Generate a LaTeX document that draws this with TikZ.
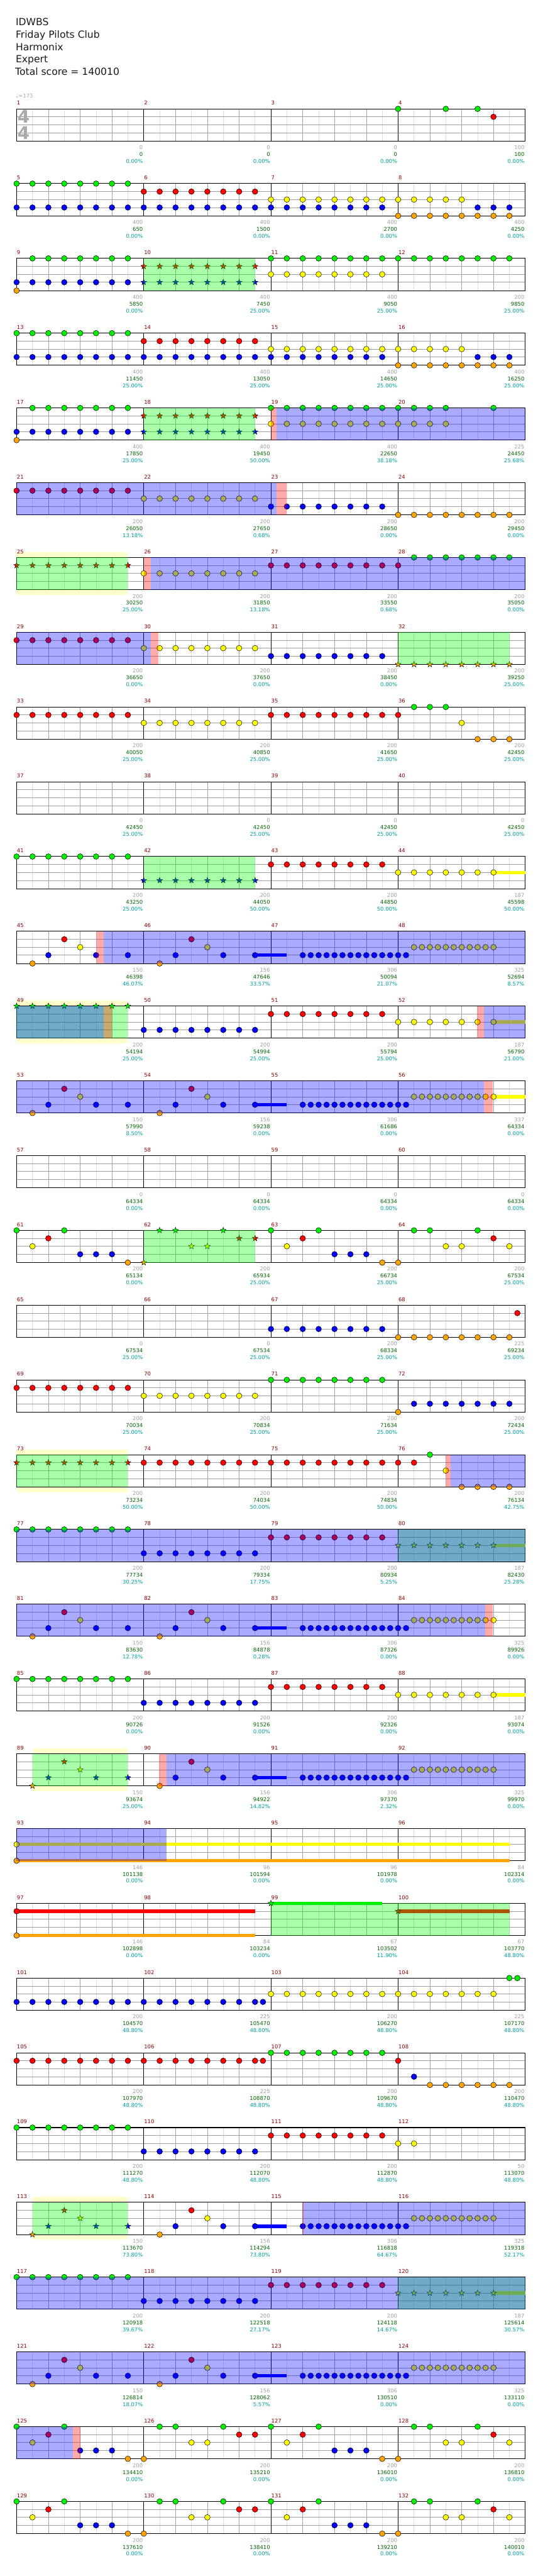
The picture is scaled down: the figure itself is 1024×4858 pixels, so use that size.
\documentclass[tikz,border=0pt]{standalone}
\usepackage{fontspec}
\setmainfont{DejaVu Sans}
\definecolor{ng}{RGB}{0,240,0}
\definecolor{nr}{RGB}{255,0,0}
\definecolor{ny}{RGB}{255,255,0}
\definecolor{nb}{RGB}{0,0,255}
\definecolor{no}{RGB}{255,165,0}
\definecolor{gridA}{RGB}{160,160,160}
\definecolor{gridB}{RGB}{221,221,221}
\definecolor{mnum}{RGB}{139,0,0}
\definecolor{sgray}{RGB}{160,160,160}
\definecolor{sgreen}{RGB}{0,100,0}
\definecolor{scyan}{RGB}{0,160,160}
\definecolor{ybandc}{RGB}{255,255,204}
\definecolor{ovg}{RGB}{0,255,0}
\definecolor{hdr}{RGB}{25,25,25}
\definecolor{lgray}{RGB}{170,170,170}
\newcommand{\laneg}{0}
\newcommand{\laner}{15}
\newcommand{\laney}{30}
\newcommand{\laneb}{45}
\newcommand{\laneo}{60.7}
\tikzset{
  px/.style={x={(1pt,0)},y={(0,-1pt)}},
  row/.style={shift={(31.3,{205.3+141*#1})}},
  notestyle/.style={draw=black,line width=0.6pt},
  sm/.style={font=\fontsize{10}{12}\selectfont, inner sep=0pt},
}
\newcommand{\Nt}[2]{\filldraw[notestyle,fill=n#2] ({30*#1},\csname lane#2\endcsname) circle[radius=5.3pt];}
\newcommand{\St}[2]{\filldraw[notestyle,line width=0.5pt,fill=n#2] ({30*#1},\csname lane#2\endcsname) +(270:5.8) -- +(306:2.4) -- +(342:5.8) -- +(18:2.4) -- +(54:5.8) -- +(90:2.4) -- +(126:5.8) -- +(162:2.4) -- +(198:5.8) -- +(234:2.4) -- cycle;}
\newcommand{\Nrun}[3]{\foreach \p in {#1,...,#2}{\Nt{\p}{#3}}}
\newcommand{\Srun}[3]{\foreach \p in {#1,...,#2}{\St{\p}{#3}}}
\newcommand{\Nhalf}[3]{\foreach \p in {#1,#1.5,...,#2}{\Nt{\p}{#3}}}
\newcommand{\Sus}[3]{\fill[n#3] ({30*#1},{\csname lane#3\endcsname-3.2}) rectangle ({30*#2},{\csname lane#3\endcsname+3.2});}
\newcommand{\OvG}[2]{\fill[ovg,fill opacity=0.333] (#1,0) rectangle (#2,60.7);}
\newcommand{\OvB}[2]{\fill[blue,fill opacity=0.333] (#1,0) rectangle (#2,60.7);}
\newcommand{\OvP}[2]{\fill[red,fill opacity=0.333] (#1,0) rectangle (#2,60.7);}
\newcommand{\Yband}[2]{\fill[ybandc] (#1,-10) rectangle (#2,0); \fill[ybandc] (#1,60.7) rectangle (#2,70.7);}
\newcommand{\PatA}{\Nt{1}{o}\Nt{2}{b}\Nt{3}{r}\Nt{4}{y}\Nt{5}{b}\Nt{7}{b}}
\newcommand{\PatAs}{\St{1}{o}\St{2}{b}\St{3}{r}\St{4}{y}\St{5}{b}\St{7}{b}}
\newcommand{\PatB}{\Sus{15}{17}{b}\Nt{9}{o}\Nt{10}{b}\Nt{11}{r}\Nt{12}{y}\Nt{13}{b}\Nt{15}{b}\Nhalf{18}{24.5}{b}\Nhalf{25}{30}{y}}
\newcommand{\PatCa}{\Nt{0}{g}\Nt{1}{y}\Nt{2}{r}\Nt{3}{g}\Nt{4}{b}\Nt{5}{b}\Nt{6}{b}\Nt{7}{o}}
\newcommand{\PatCb}{\Nt{8}{o}\Nt{9}{g}\Nt{10}{g}\Nt{11}{y}\Nt{12}{y}\Nt{13}{g}\Nt{14}{r}\Nt{15}{r}}
\newcommand{\PatCbs}{\St{8}{o}\St{9}{g}\St{10}{g}\St{11}{y}\St{12}{y}\St{13}{g}\St{14}{r}\St{15}{r}}
\newcommand{\PatCc}{\Nt{16}{g}\Nt{17}{y}\Nt{18}{r}\Nt{19}{g}\Nt{20}{b}\Nt{21}{b}\Nt{22}{b}\Nt{23}{o}\Nt{24}{o}\Nt{25}{g}\Nt{26}{g}\Nt{27}{y}\Nt{28}{y}\Nt{29}{g}\Nt{30}{r}\Nt{31}{y}}
\newcommand{\GridRow}{%
  \foreach \k in {1,3,...,31} \draw[gridB,line width=0.8pt] ({30*\k},0) -- ({30*\k},60.7);
  \foreach \k in {2,4,6,10,12,14,18,20,22,26,28,30} \draw[gridA,line width=0.8pt] ({30*\k},0) -- ({30*\k},60.7);
  \foreach \yv in {15,30,45} \draw[gridA,line width=0.8pt] (0,\yv) -- (960,\yv);
  \foreach \k in {240,480,720} \draw[black,line width=0.9pt] (\k,0) -- (\k,60.7);
  \draw[black,line width=1.2pt] (0,0) rectangle (960,60.7);
}
\newcommand{\Scores}[2]{%
  \begin{scope}[row=#1]
  \foreach \qa/\qb/\qc [count=\qi] in {#2}{%
    \node[sm,text=sgray,anchor=east] (a#1-\qi) at ({240*\qi-1.5},73) {\qa};
    \node[sm,text=sgreen,anchor=east] (b#1-\qi) at ({240*\qi-1.5},86) {\qb};
    \node[sm,text=scyan,anchor=east] (c#1-\qi) at ({240*\qi-1.5},99) {\qc\%};
  }
  \end{scope}}
\begin{document}
\begin{tikzpicture}[px]
\useasboundingbox (0,0) rectangle (1024,4858);
\fill[white] (0,0) rectangle (1024,4858);
% header
\node[anchor=base west,inner sep=0,text=hdr,font=\fontsize{18.5}{22}\selectfont] (title) at (29.5,48.3) {IDWBS};
\node[anchor=base west,inner sep=0,text=hdr,font=\fontsize{18.5}{22}\selectfont] (artist) at (29.5,71.7) {Friday Pilots Club};
\node[anchor=base west,inner sep=0,text=hdr,font=\fontsize{18.5}{22}\selectfont] (author) at (29.5,95) {Harmonix};
\node[anchor=base west,inner sep=0,text=hdr,font=\fontsize{18.5}{22}\selectfont] (diff) at (29.5,118.3) {Expert};
\node[anchor=base west,inner sep=0,text=hdr,font=\fontsize{18.5}{22}\selectfont] (total) at (28.5,141.5) {Total score = 140010};
\node[sm,text=lgray,anchor=west] (tempo) at (30,181) {♩=173};
% yellow bands (behind grid)
\begin{scope}[row=6]\Yband{0}{210}\end{scope}
\begin{scope}[row=12]\Yband{0}{210}\end{scope}
\begin{scope}[row=18]\Yband{0}{210}\end{scope}
\begin{scope}[row=22]\Yband{30}{210}\end{scope}
\begin{scope}[row=28]\Yband{30}{210}\end{scope}
% grids and measure numbers
\foreach \rr in {0,...,32}{
  \begin{scope}[row=\rr]
  \GridRow
  \foreach \cc in {0,...,3}{
    \pgfmathtruncatemacro{\mm}{4*\rr+\cc+1}
    \node[sm,text=mnum,anchor=west] (m\mm) at ({240*\cc+0.5},-11) {\mm};
  }
  \end{scope}
}
\node[text=lgray,font=\fontsize{33}{33}\bfseries\selectfont,inner sep=0] (tsa) at (44.5,220.3) {4};
\node[text=lgray,font=\fontsize{33}{33}\bfseries\selectfont,inner sep=0] (tsb) at (44.5,250.3) {4};
% rows
\begin{scope}[row=0]\Nt{24}{g}\Nt{27}{g}\Nt{29}{g}\Nt{30}{r}\end{scope}
\begin{scope}[row=1]\Nrun{0}{7}{g}\Nrun{0}{23}{b}\Nrun{8}{15}{r}\Nrun{16}{28}{y}\Nrun{29}{31}{b}\Nrun{24}{31}{o}\end{scope}
\begin{scope}[row=2]\Nrun{1}{7}{g}\Nrun{0}{7}{b}\Nt{0}{o}\Srun{8}{15}{r}\Srun{8}{15}{b}\Nrun{16}{31}{g}\Nrun{16}{23}{y}\OvG{240}{450}\end{scope}
\begin{scope}[row=3]\Nrun{0}{7}{g}\Nrun{0}{23}{b}\Nrun{8}{15}{r}\Nrun{16}{28}{y}\Nrun{29}{31}{b}\Nrun{24}{31}{o}\end{scope}
\begin{scope}[row=4]\Nrun{1}{7}{g}\Nrun{0}{7}{b}\Nt{0}{o}\Srun{8}{15}{r}\Srun{8}{15}{b}\Nrun{16}{27}{g}\Nt{30}{g}\Nrun{16}{27}{y}\OvG{240}{450}\OvP{480}{491}\OvB{491}{960}\end{scope}
\begin{scope}[row=5]\Nrun{0}{7}{r}\Nrun{8}{15}{y}\Nrun{16}{23}{b}\Nrun{24}{31}{o}\OvB{0}{491}\OvP{491}{509}\end{scope}
\begin{scope}[row=6]\Srun{0}{7}{r}\Nrun{8}{15}{y}\Nrun{16}{24}{r}\Nrun{25}{31}{g}\OvG{0}{210}\OvP{240}{253}\OvB{253}{960}\end{scope}
\begin{scope}[row=7]\Nrun{0}{7}{r}\Nrun{8}{15}{y}\Nrun{16}{23}{b}\Srun{24}{31}{o}\OvG{720}{930}\OvB{0}{253}\OvP{253}{268}\end{scope}
\begin{scope}[row=8]\Nrun{0}{7}{r}\Nrun{8}{15}{y}\Nrun{16}{24}{r}\Nrun{25}{27}{g}\Nt{28}{y}\Nrun{29}{31}{o}\end{scope}
\begin{scope}[row=10]\Nrun{0}{7}{g}\Srun{8}{15}{b}\Nrun{16}{23}{r}\Sus{30}{32}{y}\Nrun{24}{30}{y}\OvG{240}{450}\end{scope}
\begin{scope}[row=11]\PatA\PatB\OvP{150}{164}\OvB{164}{960}\end{scope}
\begin{scope}[row=12]\Srun{0}{7}{g}\Nrun{8}{15}{b}\Nrun{16}{23}{r}\Nrun{24}{29}{y}\Sus{30}{32}{y}\Nt{30}{y}\OvG{0}{210}\OvB{0}{164}\OvP{164}{180}\OvP{869}{882}\OvB{882}{960}\end{scope}
\begin{scope}[row=13]\Sus{30}{32}{y}\PatA\PatB\OvB{0}{882}\OvP{882}{899}\end{scope}
\begin{scope}[row=15]\PatCa\PatCbs\PatCc\OvG{240}{450}\end{scope}
\begin{scope}[row=16]\Nrun{16}{23}{b}\Nrun{24}{31}{o}\Nt{31.5}{r}\end{scope}
\begin{scope}[row=17]\Nrun{0}{7}{r}\Nrun{8}{15}{y}\Nrun{16}{23}{g}\Nt{24}{o}\Nrun{25}{31}{b}\end{scope}
\begin{scope}[row=18]\Srun{0}{7}{r}\Nrun{8}{25}{r}\Nt{26}{g}\Nt{27}{y}\Nrun{28}{31}{o}\OvG{0}{210}\OvP{809}{819}\OvB{819}{960}\end{scope}
\begin{scope}[row=19]\Nrun{0}{7}{g}\Nrun{8}{15}{b}\Nrun{16}{23}{r}\Sus{30}{32}{y}\Srun{24}{30}{y}\OvG{720}{960}\OvB{0}{960}\end{scope}
\begin{scope}[row=20]\PatA\PatB\OvB{0}{884}\OvP{884}{899}\end{scope}
\begin{scope}[row=21]\Nrun{0}{7}{g}\Nrun{8}{15}{b}\Nrun{16}{23}{r}\Sus{30}{32}{y}\Nrun{24}{30}{y}\end{scope}
\begin{scope}[row=22]\PatAs\PatB\OvG{30}{210}\OvP{269}{283}\OvB{283}{960}\end{scope}
\begin{scope}[row=23]\Sus{0}{31}{y}\Sus{0}{31}{o}\Nt{0}{y}\Nt{0}{o}\OvB{0}{283}\end{scope}
\begin{scope}[row=24]\Sus{0}{15}{r}\Sus{0}{15}{o}\Nt{0}{r}\Nt{0}{o}\Sus{16}{23}{g}\St{16}{g}\Sus{24}{31}{r}\St{24}{r}\OvG{480}{930}\end{scope}
\begin{scope}[row=25]\Nrun{0}{15}{b}\Nt{15.5}{b}\Nrun{16}{30}{y}\Nt{31}{g}\Nt{31.5}{g}\end{scope}
\begin{scope}[row=26]\Nrun{0}{15}{r}\Nt{15.5}{r}\Nrun{16}{23}{g}\Nt{24}{r}\Nt{25}{b}\Nrun{26}{31}{o}\end{scope}
\begin{scope}[row=27]\Nrun{0}{7}{g}\Nrun{8}{15}{b}\Nrun{16}{23}{r}\Nt{24}{y}\Nt{25}{y}\end{scope}
\begin{scope}[row=28]\PatAs\PatB\OvG{30}{210}\OvB{540}{960}\OvP{539}{541}\end{scope}
\begin{scope}[row=29]\Nrun{0}{7}{g}\Nrun{8}{15}{b}\Nrun{16}{23}{r}\Sus{30}{32}{y}\Srun{24}{30}{y}\OvG{720}{960}\OvB{0}{960}\end{scope}
\begin{scope}[row=30]\PatA\PatB\OvB{0}{960}\end{scope}
\begin{scope}[row=31]\PatCa\PatCb\PatCc\OvB{0}{106}\OvP{106}{120}\end{scope}
\begin{scope}[row=32]\PatCa\PatCb\PatCc\end{scope}
% scores
\Scores{0}{0/0/0.00, 0/0/0.00, 0/0/0.00, 100/100/0.00}
\Scores{1}{400/650/0.00, 400/1500/0.00, 400/2700/0.00, 400/4250/0.00}
\Scores{2}{400/5850/0.00, 400/7450/25.00, 400/9050/25.00, 200/9850/25.00}
\Scores{3}{400/11450/25.00, 400/13050/25.00, 400/14650/25.00, 400/16250/25.00}
\Scores{4}{400/17850/25.00, 400/19450/50.00, 400/22650/38.18, 225/24450/25.68}
\Scores{5}{200/26050/13.18, 200/27650/0.68, 200/28650/0.00, 200/29450/0.00}
\Scores{6}{200/30250/25.00, 200/31850/13.18, 200/33550/0.68, 200/35050/0.00}
\Scores{7}{200/36650/0.00, 200/37650/0.00, 200/38450/0.00, 200/39250/25.00}
\Scores{8}{200/40050/25.00, 200/40850/25.00, 200/41650/25.00, 200/42450/25.00}
\Scores{9}{0/42450/25.00, 0/42450/25.00, 0/42450/25.00, 0/42450/25.00}
\Scores{10}{200/43250/25.00, 200/44050/50.00, 200/44850/50.00, 187/45598/50.00}
\Scores{11}{150/46398/46.07, 156/47646/33.57, 306/50094/21.07, 325/52694/8.57}
\Scores{12}{200/54194/25.00, 200/54994/25.00, 200/55794/25.00, 187/56790/21.00}
\Scores{13}{150/57990/8.50, 156/59238/0.00, 306/61686/0.00, 337/64334/0.00}
\Scores{14}{0/64334/0.00, 0/64334/0.00, 0/64334/0.00, 0/64334/0.00}
\Scores{15}{200/65134/0.00, 200/65934/25.00, 200/66734/25.00, 200/67534/25.00}
\Scores{16}{0/67534/25.00, 0/67534/25.00, 200/68334/25.00, 225/69234/25.00}
\Scores{17}{200/70034/25.00, 200/70834/25.00, 200/71634/25.00, 200/72434/25.00}
\Scores{18}{200/73234/50.00, 200/74034/50.00, 200/74834/50.00, 200/76134/42.75}
\Scores{19}{200/77734/30.25, 200/79334/17.75, 200/80934/5.25, 187/82430/25.28}
\Scores{20}{150/83630/12.78, 156/84878/0.28, 306/87326/0.00, 325/89926/0.00}
\Scores{21}{200/90726/0.00, 200/91526/0.00, 200/92326/0.00, 187/93074/0.00}
\Scores{22}{150/93674/25.00, 156/94922/14.82, 306/97370/2.32, 325/99970/0.00}
\Scores{23}{146/101138/0.00, 96/101594/0.00, 96/101978/0.00, 84/102314/0.00}
\Scores{24}{146/102898/0.00, 84/103234/0.00, 67/103502/11.90, 67/103770/48.80}
\Scores{25}{200/104570/48.80, 225/105470/48.80, 200/106270/48.80, 225/107170/48.80}
\Scores{26}{200/107970/48.80, 225/108870/48.80, 200/109670/48.80, 200/110470/48.80}
\Scores{27}{200/111270/48.80, 200/112070/48.80, 200/112870/48.80, 50/113070/48.80}
\Scores{28}{150/113670/73.80, 156/114294/73.80, 306/116818/64.67, 325/119318/52.17}
\Scores{29}{200/120918/39.67, 200/122518/27.17, 200/124118/14.67, 187/125614/30.57}
\Scores{30}{150/126814/18.07, 156/128062/5.57, 306/130510/0.00, 325/133110/0.00}
\Scores{31}{200/134410/0.00, 200/135210/0.00, 200/136010/0.00, 200/136810/0.00}
\Scores{32}{200/137610/0.00, 200/138410/0.00, 200/139210/0.00, 200/140010/0.00}
\end{tikzpicture}
\end{document}
